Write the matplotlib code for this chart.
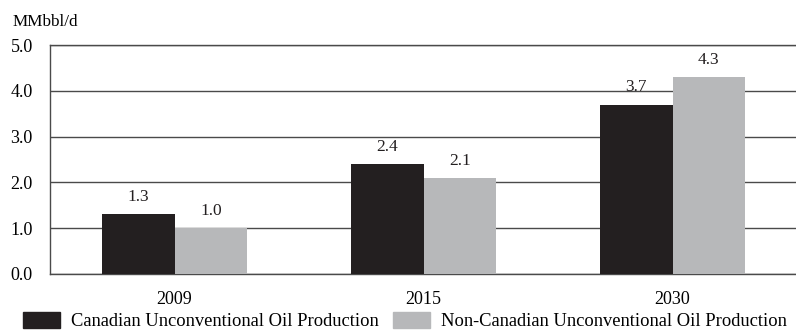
import numpy as np
import matplotlib
matplotlib.use('Agg')
import matplotlib.pyplot as plt
from matplotlib.patches import Patch

years = ["2009", "2015", "2030"]
canadian = [1.3, 2.4, 3.7]
non_canadian = [1.0, 2.1, 4.3]
series_names = ["Canadian Unconventional Oil Production",
                "Non-Canadian Unconventional Oil Production"]
yticks = [0.0, 1.0, 2.0, 3.0, 4.0, 5.0]

plt.rcParams['font.family'] = ['Liberation Serif', 'DejaVu Serif']
plt.rcParams['font.size'] = 13

dark = '#231f20'
grey = '#b7b8ba'

fig = plt.figure(figsize=(7.96, 3.32), dpi=100)
ax = fig.add_axes([50 / 796, 1 - 274 / 332, 747 / 796, 229 / 332])

x = np.arange(len(years))
w = 0.292
ax.bar(x - w / 2, canadian, w, color=dark, zorder=3)
ax.bar(x + w / 2, non_canadian, w, color=grey, zorder=3)

# value labels above bars
for xi, v in zip(x - w / 2, canadian):
    ax.text(xi, v + 0.2, f"{v:.1f}", ha='center', va='bottom', color=dark, fontsize=12.5)
for xi, v in zip(x + w / 2, non_canadian):
    ax.text(xi, v + 0.2, f"{v:.1f}", ha='center', va='bottom', color=dark, fontsize=12.5)

ax.set_xlim(-0.5, 2.5)
ax.set_ylim(0, 5.0)
ax.set_yticks(yticks)
ax.set_yticklabels([f"{t:.1f}" for t in yticks])
ax.set_xticks(x)
ax.set_xticklabels(years)
ax.tick_params(axis='x', length=0, pad=12)
ax.tick_params(axis='y', length=0, pad=12.5)
ax.grid(axis='y', color='#4a4a4a', linewidth=1.0, zorder=1)
ax.spines['right'].set_visible(False)
for s in ['top', 'left', 'bottom']:
    ax.spines[s].set_color('#4a4a4a')
    ax.spines[s].set_linewidth(1.0)

fig.text(13 / 796, 1 - 22 / 332, "MMbbl/d", ha='left', va='center', fontsize=12.3)

handles = [Patch(color=dark), Patch(color=grey)]
fig.legend(handles, series_names, loc='lower left', bbox_to_anchor=(6 / 796, -0.045),
           ncol=2, frameon=False, handlelength=2.0, handleheight=1.0,
           handletextpad=0.62, columnspacing=0.75, fontsize=13.3)

fig.savefig("out.png", dpi=100)
